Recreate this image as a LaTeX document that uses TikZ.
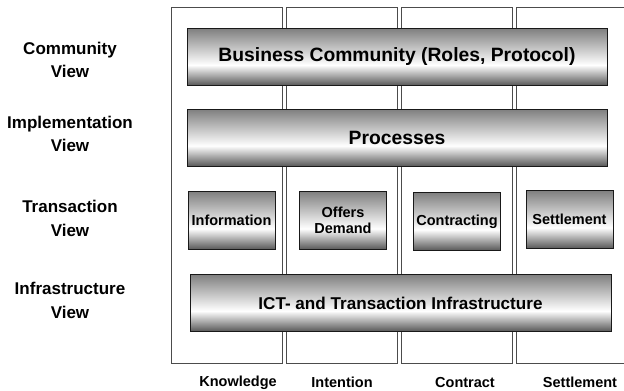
\documentclass[tikz,border=0pt]{standalone}
\usepackage{fontspec}
\setmainfont{Liberation Sans}
\usetikzlibrary{positioning}
\pgfdeclareverticalshading{metal}{100bp}{color(0bp)=(black!66); color(25bp)=(black!66); color(43bp)=(white); color(75bp)=(black!50); color(100bp)=(black!50)}

\begin{document}
\begin{tikzpicture}[
    x=1pt, y=1pt,
    col/.style={rectangle, draw=black!70, line width=0.7pt, minimum width=111pt, minimum height=356pt, inner sep=0pt},
    band/.style={rectangle, draw=black!90, line width=0.8pt, shading=metal, minimum width=420pt, minimum height=57pt, font=\fontsize{19.3}{22}\selectfont\bfseries},
    cell/.style={rectangle, draw=black!90, line width=0.8pt, shading=metal, minimum width=87pt, minimum height=58pt, inner sep=1pt, align=center, font=\fontsize{14.5}{15.6}\selectfont\bfseries},
    view/.style={align=center, font=\fontsize{17}{23.5}\selectfont\bfseries},
    phase/.style={font=\fontsize{14.5}{16}\selectfont\bfseries}
]
    \useasboundingbox (0,0) rectangle (624,391);

    \node[col] (knowledge) at (226.5,206) {};
    \node[col, right=3.5pt of knowledge] (intention) {};
    \node[col, right=3.5pt of intention] (contract) {};
    \node[col, right=3.5pt of contract] (settle) {};

    \node[phase] (lknowledge) at (238,8.5) {Knowledge};
    \node[phase] (lintention) at (342,8.5) {Intention};
    \node[phase] (lcontract) at (465,8.5) {Contract};
    \node[phase] (lsettle) at (580,8.5) {Settlement};

    \node[band] (community) at (397,334) {Business Community (Roles, Protocol)};
    \node[band, below=23pt of community] (processes) {Processes};
    \node[cell] (information) at (231.5,170.5) {Information};
    \node[cell] (offers) at (343,170.5) {Offers\\Demand};
    \node[cell] (contracting) at (457,169.5) {Contracting};
    \node[cell] (settlement) at (569.5,171.5) {Settlement};
    \node[band, minimum width=421pt, font=\fontsize{17.1}{20}\selectfont\bfseries] (ict) at (400.5,88) {ICT- and Transaction Infrastructure};

    \node[view] (vcommunity) at (70,331) {Community\\View};
    \node[view] (vimplement) at (70,257) {Implementation\\View};
    \node[view] (vtransaction) at (70,172.5) {Transaction\\View};
    \node[view] (vinfra) at (70,90.5) {Infrastructure\\View};
\end{tikzpicture}
\end{document}
